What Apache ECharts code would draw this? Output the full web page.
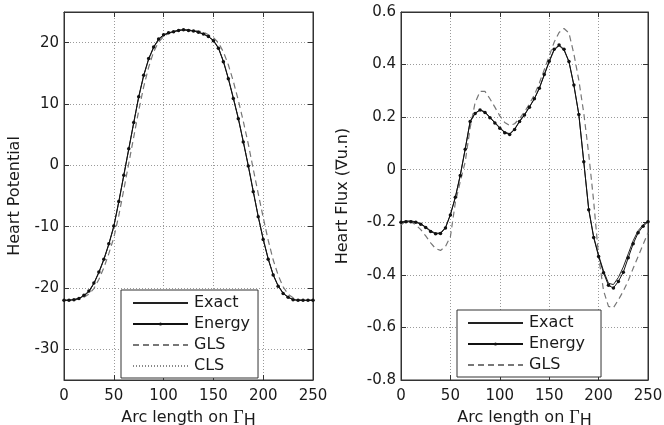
<!DOCTYPE html>
<html>
<head>
<meta charset="utf-8">
<script src="https://cdn.jsdelivr.net/npm/echarts@6/dist/echarts.min.js"></script>
<style>html,body{margin:0;padding:0;background:#fff;}#c{width:664px;height:425px;}</style>
</head>
<body>
<div id="c"></div>
<script>
// ---- data ----
const arcLength = [0,5,10,15,20,25,30,35,40,45,50,55,60,65,70,75,80,85,90,95,100,105,110,115,120,125,130,135,140,145,150,155,160,165,170,175,180,185,190,195,200,205,210,215,220,225,230,235,240,245,250];

// Left panel: Heart Potential
const potExact = [-22.0,-22.0,-21.9,-21.7,-21.3,-20.6,-19.3,-17.5,-15.4,-12.9,
  -10.0,-6.0,-1.7,2.6,6.9,11.1,14.6,17.3,19.2,20.5,
  21.2,21.6,21.8,22.0,22.1,22.0,21.9,21.7,21.4,21.0,
  20.4,19.2,17.0,14.2,11.0,7.7,3.9,0.0,-4.2,-8.3,
  -12.0,-15.2,-17.8,-19.6,-20.8,-21.5,-21.9,-22.0,-22.0,-22.0,-22.0];
const potEnergy = [-22.0,-22.0,-21.9,-21.7,-21.2,-20.5,-19.2,-17.4,-15.3,-12.8,
  -9.9,-5.9,-1.6,2.7,7.0,11.2,14.7,17.4,19.3,20.6,
  21.3,21.6,21.8,22.0,22.1,22.0,21.9,21.7,21.4,21.0,
  20.3,19.1,16.9,14.1,10.9,7.6,3.8,-0.1,-4.3,-8.4,
  -12.1,-15.3,-17.9,-19.7,-20.9,-21.5,-21.9,-22.0,-22.0,-22.0,-22.0];
const potGLS = [-22.0,-22.0,-22.0,-21.8,-21.5,-21.0,-20.1,-18.6,-16.7,-14.4,
  -11.8,-8.2,-4.0,0.3,4.6,8.9,12.8,16.0,18.5,20.1,
  21.0,21.5,21.8,22.0,22.1,22.1,22.0,21.9,21.7,21.3,
  20.8,20.0,18.5,16.4,13.7,10.6,7.2,3.5,-0.6,-4.6,
  -8.5,-12.2,-15.4,-17.9,-19.8,-21.0,-21.6,-21.9,-22.0,-22.0,-22.0];
const potCLS = [-22.0,-22.0,-21.9,-21.7,-21.3,-20.7,-19.4,-17.6,-15.5,-13.0,
  -10.1,-6.1,-1.8,2.5,6.8,11.0,14.5,17.2,19.2,20.5,
  21.2,21.6,21.8,22.0,22.1,22.0,21.9,21.7,21.4,21.0,
  20.4,19.2,17.1,14.3,11.1,7.8,4.0,0.1,-4.1,-8.2,
  -11.9,-15.1,-17.8,-19.6,-20.8,-21.5,-21.9,-22.0,-22.0,-22.0,-22.0];

// Right panel: Heart Flux
const fluxExact = [-0.200,-0.195,-0.195,-0.198,-0.205,-0.218,-0.232,-0.242,-0.240,-0.220,
  -0.170,-0.105,-0.020,0.080,0.185,0.215,0.228,0.220,0.200,0.180,
  0.160,0.143,0.137,0.155,0.185,0.210,0.240,0.270,0.310,0.360,
  0.410,0.455,0.472,0.455,0.410,0.320,0.210,0.030,-0.150,-0.255,
  -0.325,-0.385,-0.432,-0.437,-0.410,-0.370,-0.320,-0.270,-0.232,-0.210,-0.195];
const fluxEnergy = [-0.200,-0.198,-0.198,-0.200,-0.207,-0.220,-0.235,-0.244,-0.243,-0.222,
  -0.172,-0.105,-0.022,0.078,0.183,0.214,0.227,0.218,0.198,0.178,
  0.158,0.141,0.134,0.153,0.183,0.208,0.238,0.270,0.310,0.362,
  0.413,0.458,0.474,0.458,0.412,0.322,0.210,0.030,-0.152,-0.258,
  -0.330,-0.392,-0.440,-0.450,-0.425,-0.390,-0.335,-0.282,-0.240,-0.215,-0.198];
const fluxGLS = [-0.210,-0.195,-0.198,-0.210,-0.228,-0.252,-0.278,-0.300,-0.307,-0.292,
  -0.255,-0.125,-0.045,0.030,0.160,0.255,0.298,0.298,0.270,0.238,
  0.205,0.180,0.168,0.175,0.195,0.220,0.250,0.285,0.330,0.380,
  0.432,0.485,0.522,0.537,0.520,0.440,0.340,0.215,0.060,-0.120,
  -0.330,-0.460,-0.520,-0.525,-0.495,-0.462,-0.422,-0.375,-0.330,-0.285,-0.240];

const xTicks = {min: 0, max: 250, interval: 50};
const potRange = {min: -35, max: 25};
const fluxRange = {min: -0.8, max: 0.6, interval: 0.2};

// ---- chart ----
const FONT = 'DejaVu Sans';
const TXT = '#1a1a1a';
const chart = echarts.init(document.getElementById('c'), null, {renderer: 'canvas'});
const pairs = ys => arcLength.map((x, i) => [x, ys[i]]);

const grids = [
  {left: 64, right: 351, top: 12, bottom: 45, containLabel: false, outerBoundsMode: 'none',
    show: true, borderColor: '#333', borderWidth: 1, backgroundColor: '#fff'},
  {left: 401, right: 16, top: 12, bottom: 45, containLabel: false, outerBoundsMode: 'none',
    show: true, borderColor: '#333', borderWidth: 1, backgroundColor: '#fff'}
];

const splitLine = {show: true, lineStyle: {color: '#9a9a9a', type: [1, 2], width: 1}};
const axisLine = {show: true, onZero: false, lineStyle: {color: '#333', width: 1}};
const tick = {show: true, inside: true, length: 5, lineStyle: {color: '#333'}};

const xName = {
  name: '{a|Arc length on }{g|Γ}{s|H}',
  nameLocation: 'middle',
  nameGap: 14,
  nameTextStyle: {
    color: TXT, fontFamily: FONT, fontSize: 16,
    rich: {
      a: {fontFamily: FONT, fontSize: 16, color: TXT, padding: [0, 0, 6, 0]},
      g: {fontFamily: 'Liberation Serif', fontSize: 18, color: TXT, padding: [0, 0, 6, 0]},
      s: {fontFamily: FONT, fontSize: 16, color: TXT}
    }
  }
};

function xAxisMain(gi) {
  return Object.assign({
    type: 'value', gridIndex: gi, position: 'bottom',
    min: xTicks.min, max: xTicks.max, interval: xTicks.interval,
    axisLine, axisTick: tick, splitLine,
    axisLabel: {color: TXT, fontFamily: FONT, fontSize: 15, margin: 9}
  }, xName);
}
function xAxisTop(gi) {
  return {type: 'value', gridIndex: gi, position: 'top',
    min: xTicks.min, max: xTicks.max, interval: xTicks.interval,
    axisLine, axisTick: tick, splitLine: {show: false}, axisLabel: {show: false}};
}

const yLabel = {color: TXT, fontFamily: FONT, fontSize: 15, margin: 5};
const noDot = {opacity: 0};

const option = {
  animation: false,
  backgroundColor: '#fff',
  grid: grids,
  xAxis: [xAxisMain(0), xAxisTop(0), xAxisMain(1), xAxisTop(1)],
  yAxis: [
    {type: 'value', gridIndex: 0, position: 'left', min: potRange.min, max: potRange.max, splitNumber: 6,
      axisLine, axisTick: tick, splitLine,
      axisLabel: Object.assign({showMinLabel: false, showMaxLabel: false}, yLabel),
      name: 'Heart Potential', nameLocation: 'middle', nameGap: 41,
      nameTextStyle: {color: TXT, fontFamily: FONT, fontSize: 16}},
    {type: 'value', gridIndex: 0, position: 'right', min: potRange.min, max: potRange.max, splitNumber: 6,
      axisLine, axisTick: tick, splitLine: {show: false}, axisLabel: {show: false}},
    {type: 'value', gridIndex: 1, position: 'left', min: fluxRange.min, max: fluxRange.max, interval: fluxRange.interval,
      axisLine, axisTick: tick, splitLine, axisLabel: yLabel,
      name: 'Heart Flux (∇u.n)', nameLocation: 'middle', nameGap: 50,
      nameTextStyle: {color: TXT, fontFamily: FONT, fontSize: 16}},
    {type: 'value', gridIndex: 1, position: 'right', min: fluxRange.min, max: fluxRange.max, interval: fluxRange.interval,
      axisLine, axisTick: tick, splitLine: {show: false}, axisLabel: {show: false}}
  ],
  legend: [
    {data: [{name: 'Exact', itemStyle: noDot}, 'Energy', {name: 'GLS', itemStyle: noDot}, {name: 'CLS', itemStyle: noDot}],
      orient: 'vertical', left: 121, top: 290,
      itemWidth: 55, itemHeight: 4, itemGap: 5, padding: [5, 8, 4, 11],
      backgroundColor: '#fff', borderColor: '#333', borderWidth: 1, borderRadius: 0,
      textStyle: {color: TXT, fontFamily: FONT, fontSize: 16, padding: [0, 0, 0, 1]}, selectedMode: false},
    {data: [{name: 'Exact', itemStyle: noDot}, 'Energy', {name: 'GLS', itemStyle: noDot}],
      orient: 'vertical', left: 457, top: 310,
      itemWidth: 55, itemHeight: 4, itemGap: 5, padding: [5, 16, 4, 10],
      backgroundColor: '#fff', borderColor: '#333', borderWidth: 1, borderRadius: 0,
      textStyle: {color: TXT, fontFamily: FONT, fontSize: 16, padding: [0, 0, 0, 1]}, selectedMode: false}
  ],
  series: [
    {name: 'CLS', type: 'line', xAxisIndex: 0, yAxisIndex: 0, data: pairs(potCLS), symbol: 'none',
      lineStyle: {color: '#888', width: 1, type: [1, 2]}, itemStyle: {color: '#888'}},
    {name: 'GLS', type: 'line', xAxisIndex: 0, yAxisIndex: 0, data: pairs(potGLS), symbol: 'none',
      lineStyle: {color: '#777', width: 1.2, type: [6, 4]}, itemStyle: {color: '#777'}},
    {name: 'Exact', type: 'line', xAxisIndex: 0, yAxisIndex: 0, data: pairs(potExact), symbol: 'none',
      lineStyle: {color: '#222', width: 1}, itemStyle: {color: '#222'}},
    {name: 'Energy', type: 'line', xAxisIndex: 0, yAxisIndex: 0, data: pairs(potEnergy), symbol: 'circle', symbolSize: 3.5,
      showAllSymbol: true, lineStyle: {color: '#111', width: 1}, itemStyle: {color: '#111'}},

    {name: 'GLS', type: 'line', xAxisIndex: 2, yAxisIndex: 2, data: pairs(fluxGLS), symbol: 'none',
      lineStyle: {color: '#777', width: 1.2, type: [6, 4]}, itemStyle: {color: '#777'}},
    {name: 'Exact', type: 'line', xAxisIndex: 2, yAxisIndex: 2, data: pairs(fluxExact), symbol: 'none',
      lineStyle: {color: '#222', width: 1}, itemStyle: {color: '#222'}},
    {name: 'Energy', type: 'line', xAxisIndex: 2, yAxisIndex: 2, data: pairs(fluxEnergy), symbol: 'circle', symbolSize: 3.5,
      showAllSymbol: true, lineStyle: {color: '#111', width: 1}, itemStyle: {color: '#111'}}
  ]
};
chart.setOption(option);
</script>
</body>
</html>
